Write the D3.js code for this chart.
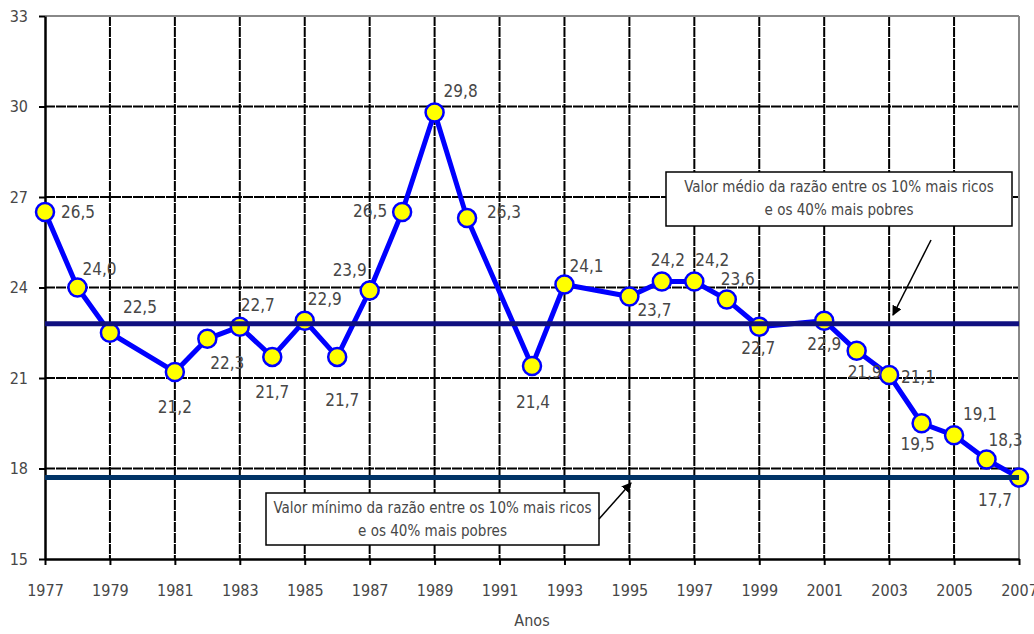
<!DOCTYPE html>
<html>
<head>
<meta charset="utf-8">
<script src="https://cdn.jsdelivr.net/npm/d3@7"></script>
<style>
  html, body { margin: 0; padding: 0; background: #fff; }
  svg text { font-family: "Liberation Sans Narrow", "Arial Narrow", "DejaVu Sans Condensed", sans-serif; fill: #474747; }
</style>
</head>
<body>
<svg id="chart" width="1034" height="634"></svg>
<script>
const years  = [1977,1978,1979,1981,1982,1983,1984,1985,1986,1987,1988,1989,1990,1992,1993,1995,1996,1997,1998,1999,2001,2002,2003,2004,2005,2006,2007];
const values = [26.5,24.0,22.5,21.2,22.3,22.7,21.7,22.9,21.7,23.9,26.5,29.8,26.3,21.4,24.1,23.7,24.2,24.2,23.6,22.7,22.9,21.9,21.1,19.5,19.1,18.3,17.7];
// label offsets (dx, dy) relative to point, in px
const labelDx = [33,22,30,0,20,18,0,20,5,-20,-32,26,37,1,22,25,6,18,11,-1,0,8,29,-4,26,19,-24];
const labelDy = [1,-18,-25,36,25,-21,36,-21,44,-20,0,-21,-5,37,-17,14,-20,-20,-20,22,24,22,3,22,-20,-18,23];
const xTicks = d3.range(1977, 2008, 2);
const yTicks = [15,18,21,24,27,30,33];
const meanValue = 22.8;
const minValue = 17.7;
const meanText = ["Valor médio da razão entre os 10% mais ricos", "e os 40% mais pobres"];
const minText  = ["Valor mínimo da razão entre os 10% mais ricos", "e os 40% mais pobres"];
const xTitle = "Anos";

const svg = d3.select("#chart");
const L = 45, R = 1019, T = 16, B = 559;
const x = d3.scaleLinear().domain([1977, 2007]).range([L, R]);
const y = d3.scaleLinear().domain([15, 33]).range([B, T]);

// grid
const g = svg.append("g");
g.selectAll(".vg").data(xTicks.filter(d => d > 1977 && d < 2007)).enter().append("line")
  .attr("x1", d => x(d)).attr("x2", d => x(d)).attr("y1", T).attr("y2", B)
  .attr("stroke", "#000").attr("stroke-width", 2).attr("stroke-dasharray", "10,1");
g.selectAll(".hg").data(yTicks.filter(d => d > 15 && d < 33)).enter().append("line")
  .attr("x1", L).attr("x2", R).attr("y1", d => y(d)).attr("y2", d => y(d))
  .attr("stroke", "#000").attr("stroke-width", 2).attr("stroke-dasharray", "10,1");
// top & right border (gray)
g.append("line").attr("x1", L).attr("x2", R).attr("y1", T).attr("y2", T).attr("stroke", "#888").attr("stroke-width", 2);
g.append("line").attr("x1", R).attr("x2", R).attr("y1", T).attr("y2", B).attr("stroke", "#888").attr("stroke-width", 2);

// axes
const xAxis = d3.axisBottom(x).tickValues(xTicks).tickFormat(d3.format("d")).tickSize(6).tickSizeOuter(0);
const yAxis = d3.axisLeft(y).tickValues(yTicks).tickSize(6).tickSizeOuter(0);
const xa = svg.append("g").attr("transform", `translate(0,${B})`).call(xAxis);
const ya = svg.append("g").attr("transform", `translate(${L},0)`).call(yAxis);
[xa, ya].forEach(a => {
  a.select(".domain").attr("stroke", "#000").attr("stroke-width", 2.5);
  a.selectAll(".tick line").attr("stroke", "#000").attr("stroke-width", 2);
  a.selectAll(".tick text").style("font-size", "16px").attr("fill", "#474747");
});
xa.selectAll(".tick text").attr("dy", "0").attr("y", 37);
ya.selectAll(".tick text").attr("x", -17);

// series
const line = d3.line().x((d, i) => x(years[i])).y(d => y(d));
svg.append("path").datum(values).attr("d", line)
  .attr("fill", "none").attr("stroke", "#0000ff").attr("stroke-width", 5).attr("stroke-linejoin", "round");
svg.selectAll(".pt").data(values).enter().append("circle")
  .attr("cx", (d, i) => x(years[i])).attr("cy", d => y(d)).attr("r", 9)
  .attr("fill", "#ffff00").attr("stroke", "#0000ff").attr("stroke-width", 2.5);

// reference lines
svg.append("line").attr("x1", L).attr("x2", R).attr("y1", y(meanValue)).attr("y2", y(meanValue))
  .attr("stroke", "#101080").attr("stroke-width", 5);
svg.append("line").attr("x1", L).attr("x2", R).attr("y1", y(minValue)).attr("y2", y(minValue))
  .attr("stroke", "#003366").attr("stroke-width", 5);

// value labels
svg.selectAll(".vl").data(values).enter().append("text")
  .attr("x", (d, i) => x(years[i]) + labelDx[i]).attr("y", (d, i) => y(d) + labelDy[i])
  .attr("text-anchor", "middle").attr("dominant-baseline", "middle")
  .style("font-size", "17px").text(d => d.toFixed(1).replace(".", ","));

// annotation boxes
function box(x0, y0, w, h, lines) {
  svg.append("rect").attr("x", x0).attr("y", y0).attr("width", w).attr("height", h)
    .attr("fill", "#fff").attr("stroke", "#000").attr("stroke-width", 1.5);
  lines.forEach((t, i) => {
    svg.append("text").attr("x", x0 + w / 2).attr("y", y0 + 15 + i * 23)
      .attr("text-anchor", "middle").attr("dominant-baseline", "middle")
      .style("font-size", "15px").text(t);
  });
}
box(666, 172, 346, 54, meanText);
box(266, 493, 333, 52, minText);

// arrows
const defs = svg.append("defs");
defs.append("marker").attr("id", "ah").attr("viewBox", "0 0 10 10").attr("refX", 9).attr("refY", 5)
  .attr("markerWidth", 10).attr("markerHeight", 10).attr("markerUnits", "userSpaceOnUse").attr("orient", "auto")
  .append("path").attr("d", "M0,0 L10,5 L0,10 z").attr("fill", "#000");
svg.append("line").attr("x1", 931).attr("y1", 240).attr("x2", 893).attr("y2", 315)
  .attr("stroke", "#000").attr("stroke-width", 1.5).attr("marker-end", "url(#ah)");
svg.append("line").attr("x1", 599).attr("y1", 519).attr("x2", 631).attr("y2", 483)
  .attr("stroke", "#000").attr("stroke-width", 1.5).attr("marker-end", "url(#ah)");

// axis title
svg.append("text").attr("x", 532).attr("y", 626).attr("text-anchor", "middle")
  .style("font-size", "16px").text(xTitle);
</script>
</body>
</html>
